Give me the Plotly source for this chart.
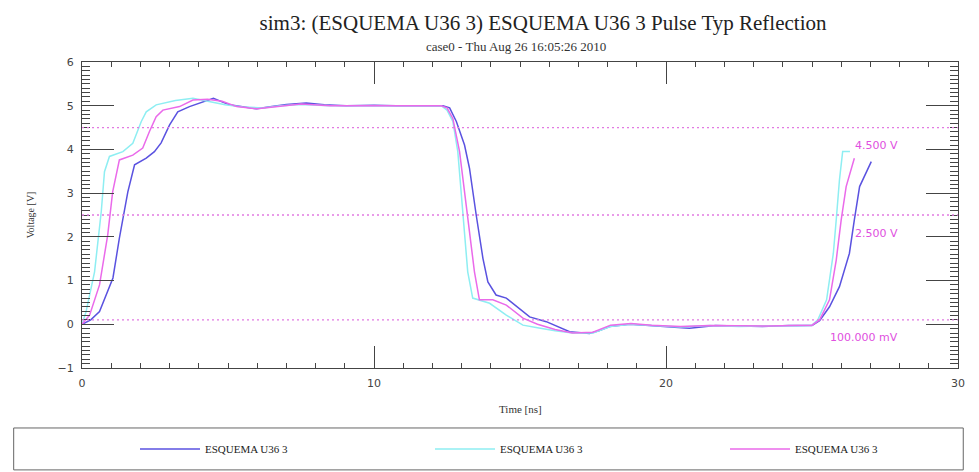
import plotly.graph_objects as go

# time [ns] / voltage [V]
blue_t = [0, 0.3, 0.6, 0.88, 1.06, 1.28, 1.46, 1.57, 1.8, 2.2, 2.48, 2.71, 3.0, 3.28, 3.68, 4.1, 4.5,
          5.05, 5.5, 5.98, 6.5, 7.0, 7.68, 8.3, 9.05, 10.0, 10.76, 11.5, 12.36, 12.59, 12.82, 13.1,
          13.27, 13.5, 13.73, 13.9, 14.18, 14.53, 14.98, 15.33, 15.9, 16.3, 16.7, 17.38, 17.7, 18.07,
          18.75, 19.3, 19.9, 20.8, 21.7, 22.5, 23.3, 24.2, 25.0, 25.26, 25.6, 25.94, 26.28, 26.45,
          26.63, 27.03]
blue_v = [0, 0.1, 0.29, 0.75, 1.06, 1.97, 2.58, 3.03, 3.65, 3.8, 3.95, 4.15, 4.56, 4.86, 4.98, 5.08, 5.17,
          5.02, 4.97, 4.93, 4.98, 5.03, 5.06, 5.02, 5.0, 5.01, 5.0, 5.0, 5.0, 4.95, 4.64, 4.1,
          3.57, 2.5, 1.51, 0.97, 0.67, 0.6, 0.37, 0.17, 0.06, -0.05, -0.17, -0.21, -0.15, -0.05,
          0.0, -0.02, -0.05, -0.09, -0.03, -0.04, -0.05, -0.03, -0.03, 0.08, 0.4, 0.86, 1.62, 2.39,
          3.15, 3.72]

cyan_t = [0, 0.14, 0.43, 0.66, 0.77, 0.94, 1.4, 1.74, 2.03, 2.2, 2.54, 3.2, 3.8, 4.3, 4.9, 5.5, 6.2,
          6.8, 7.5, 8.5, 9.5, 10.5, 11.5, 12.3, 12.5, 12.7, 12.87, 13.04, 13.21, 13.38, 13.96, 14.53,
          15.1, 15.6, 16.2, 16.8, 17.5, 18.1, 18.8, 19.5, 20.5, 21.5, 22.5, 23.5, 24.5, 25.0, 25.2,
          25.5, 25.73, 25.83, 25.94, 26.05, 26.3]
cyan_v = [0, 0.29, 1.2, 2.58, 3.49, 3.84, 3.95, 4.14, 4.64, 4.86, 5.02, 5.12, 5.17, 5.1, 5.02, 4.97, 4.95,
          5.0, 5.03, 5.0, 5.0, 5.0, 5.0, 5.0, 4.9, 4.64, 3.95, 2.5, 1.2, 0.6, 0.48, 0.21,
          -0.02, -0.08, -0.15, -0.2, -0.2, -0.05, 0.0, -0.03, -0.06, -0.03, -0.05, -0.04, -0.04, -0.02, 0.1,
          0.56, 1.62, 2.39, 3.3, 3.95, 3.95]

pink_t = [0, 0.26, 0.6, 0.88, 1.05, 1.28, 1.74, 2.08, 2.31, 2.54, 2.77, 3.34, 3.8, 4.3, 4.8, 5.3, 6.0,
          6.5, 7.5, 8.5, 9.5, 10.5, 11.5, 12.3, 12.5, 12.7, 12.93, 13.21, 13.44, 13.61, 14.07, 14.53,
          15.1, 15.6, 16.2, 16.8, 17.5, 18.1, 18.8, 19.5, 20.5, 21.5, 22.5, 23.5, 24.5, 25.0, 25.26,
          25.6, 25.83, 26.0, 26.17, 26.45]
pink_v = [0, 0.21, 0.9, 2.04, 3.03, 3.76, 3.87, 4.03, 4.41, 4.75, 4.9, 4.98, 5.13, 5.15, 5.1, 4.98, 4.93,
          4.97, 5.04, 5.0, 5.0, 5.0, 5.0, 5.0, 4.95, 4.71, 3.95, 2.5, 1.2, 0.56, 0.56, 0.44,
          0.14, 0.0, -0.12, -0.2, -0.18, -0.02, 0.02, -0.02, -0.05, -0.03, -0.04, -0.04, -0.03, -0.02, 0.1,
          0.56, 1.47, 2.39, 3.15, 3.8]

thresholds = [4.5, 2.5, 0.1]
threshold_labels = ["4.500 V", "2.500 V", "100.000 mV"]
series_name = "ESQUEMA U36 3"

serif = "Liberation Serif, Times New Roman, serif"
sans = "DejaVu Sans, Verdana, sans-serif"
axis_grey = "#444444"

fig = go.Figure()
for i, (t, v, color) in enumerate([
    (blue_t, blue_v, "#5a52e0"),
    (cyan_t, cyan_v, "#8eeef2"),
    (pink_t, pink_v, "#ea6aea"),
]):
    fig.add_trace(go.Scatter(
        x=t, y=v, mode="lines", name=series_name,
        line={"color": color, "width": 1.5},
        legend="legend" if i == 0 else f"legend{i + 1}",
    ))

for level, label in zip(thresholds, threshold_labels):
    fig.add_hline(y=level, line={"color": "#e27ae2", "width": 1.3, "dash": "2px,3px"})
    fig.add_annotation(x=28.0, y=level, text=label, showarrow=False, xanchor="right",
                       yanchor="middle", yshift=-18, font={"family": sans, "size": 11, "color": "#e050e0"})

fig.add_annotation(text="case0 - Thu Aug 26 16:05:26 2010", xref="paper", yref="paper", x=0.496, y=1.052,
                   yanchor="middle", showarrow=False, font={"family": serif, "size": 13, "color": "#333"})
fig.add_annotation(text="Time [ns]", xref="paper", yref="paper", x=0.5, y=-0.134, yanchor="middle",
                   showarrow=False, font={"family": serif, "size": 11, "color": "#333"})
fig.add_annotation(text="Voltage [V]", xref="paper", yref="paper", x=-0.059, y=0.5, textangle=-90,
                   xanchor="center", yanchor="middle",
                   showarrow=False, font={"family": serif, "size": 10, "color": "#333"})

# legend frame
fig.add_shape(type="rect", xref="paper", yref="paper", x0=-0.078, x1=1.006, y0=-0.333, y1=-0.196,
              line={"color": "#666", "width": 1})

legend_style = dict(orientation="h", yanchor="middle", y=-0.265, xanchor="left", itemwidth=60,
                    bgcolor="rgba(0,0,0,0)", font={"family": serif, "size": 11, "color": "#222"})
fig.update_layout(
    showlegend=True,
    legend=dict(x=(135 - 82) / 876, **legend_style),
    legend2=dict(x=(430 - 82) / 876, **legend_style),
    legend3=dict(x=(725 - 82) / 876, **legend_style),
)

# the page puts the figure 8 px in from the top-left corner, so margins are trimmed by that much
tick_font = {"family": sans, "size": 11, "color": "#444"}
fig.update_layout(
    width=979, height=472,
    margin={"l": 74, "r": 29, "t": 54, "b": 112, "autoexpand": False},
    paper_bgcolor="white", plot_bgcolor="white",
    title={"text": "sim3: (ESQUEMA U36 3) ESQUEMA U36 3 Pulse Typ Reflection", "x": 0.5465, "y": 0.970,
           "xanchor": "center", "yanchor": "middle",
           "font": {"family": serif, "size": 21, "color": "#222"}},
    xaxis=dict(range=[0, 30], tickmode="linear", tick0=0, dtick=10, ticks="inside", ticklen=22,
               tickcolor=axis_grey, showline=True, linecolor=axis_grey, mirror="ticks", showgrid=False,
               zeroline=False, tickfont=tick_font, ticklabelstandoff=5,
               minor=dict(dtick=1, ticks="inside", ticklen=5, tickcolor=axis_grey, showgrid=False)),
    xaxis2=dict(range=[0, 30], overlaying="x", tickmode="linear", tick0=5, dtick=10, ticks="inside",
                ticklen=10, tickcolor=axis_grey, showticklabels=False, showgrid=False, zeroline=False,
                showline=False, mirror="ticks"),
    yaxis=dict(range=[-1, 6], tickmode="linear", tick0=-1, dtick=1, ticks="inside", ticklen=32,
               tickcolor=axis_grey, showline=True, linecolor=axis_grey, mirror="ticks", showgrid=False,
               zeroline=False, tickfont=tick_font, ticklabelstandoff=5,
               minor=dict(dtick=0.1, ticks="inside", ticklen=8, tickcolor=axis_grey, showgrid=False)),
    yaxis2=dict(range=[-1, 6], overlaying="y", tickmode="linear", tick0=-0.5, dtick=1, ticks="inside",
                ticklen=17, tickcolor=axis_grey, showticklabels=False, showgrid=False, zeroline=False,
                showline=False, mirror="ticks"),
)

fig.write_html("out.html")
